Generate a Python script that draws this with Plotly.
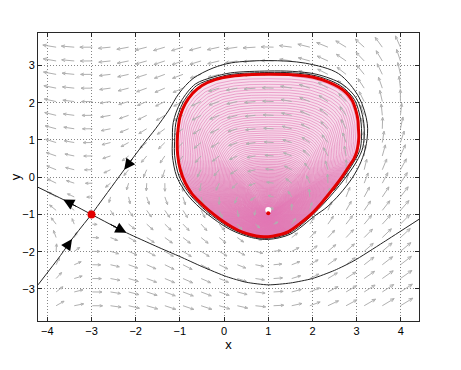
import math
import numpy as np
import plotly.graph_objects as go

# ---------------- data ----------------
SADDLE_X, SADDLE_Y = [-3.0], [-1.0]
FOCUS_X, FOCUS_Y = [1.0], [-0.97]
START_X, START_Y = [1.0], [-0.88]

# red limit cycle (counter-clockwise, closed)
CYCLE_X = [1.0, 0.55, 0.17, -0.2, -0.5, -0.72, -0.88, -0.99, -1.04, -1.06, -1.05, -0.99, -0.88, -0.73,
           -0.55, -0.36, -0.1, 0.17, 0.4, 0.63, 0.82, 1.0, 1.2, 1.46, 1.72, 1.99, 2.22, 2.44, 2.64,
           2.82, 2.94, 3.01, 3.05, 3.04, 3.03, 2.98, 2.9, 2.76, 2.59, 2.35, 2.06, 1.8, 1.54, 1.0]
CYCLE_Y = [2.76, 2.75, 2.71, 2.62, 2.46, 2.24, 1.97, 1.65, 1.3, 0.95, 0.6, 0.2, -0.15, -0.44,
           -0.67, -0.88, -1.12, -1.33, -1.47, -1.55, -1.59, -1.6, -1.56, -1.46, -1.24, -0.97, -0.67,
           -0.35, -0.04, 0.28, 0.5, 0.72, 1.08, 1.3, 1.53, 1.8, 2.06, 2.27, 2.42, 2.56, 2.67, 2.72,
           2.75, 2.76]

# stable manifold of the saddle: lower branch
STABLE_LOW_X = [-4.21, -3.7, -3.44, -3.0]
STABLE_LOW_Y = [-2.89, -2.1, -1.66, -1.0]

# stable manifold: upper branch, winding onto the cycle
STABLE_UP_X = [-3.0, -2.26, -1.85, -1.55, -1.25, -1.02, -0.7, -0.25, 0.17, 1.0, 1.84, 2.59, 3.05, 3.24,
               3.22, 3.1, 2.9, 2.62, 2.33,
               2.05, 1.5, 1.0, 0.62, 0.13, -0.42, -0.81, -1.07, -1.17, -1.17, -1.15, -0.98, -0.65, -0.24,
               0.15, 1.0, 1.55, 2.1, 2.67, 3.0, 3.15, 3.17, 3.12, 2.92, 2.5,
               2.02, 1.48, 1.0, 0.62, 0.15, -0.39, -0.77, -1.02, -1.12, -1.12, -1.09, -0.93, -0.62, -0.22,
               0.16, 1.0, 1.55, 2.08, 2.63, 2.95, 3.09, 3.11, 3.07, 2.87, 2.48]
STABLE_UP_Y = [-1.0, 0.2, 0.85, 1.3, 1.8, 2.25, 2.65, 2.93, 3.07, 3.13, 3.06, 2.78, 2.15, 1.44,
               0.9, 0.42, -0.02, -0.45, -0.8,
               -1.04, -1.53, -1.67, -1.62, -1.4, -0.95, -0.5, 0.01, 0.58, 0.95, 1.47, 2.02, 2.5, 2.69,
               2.8, 2.85, 2.84, 2.76, 2.5, 2.1, 1.55, 1.08, 0.72, 0.27, -0.38,
               -0.99, -1.5, -1.64, -1.59, -1.37, -0.92, -0.47, 0.03, 0.59, 0.95, 1.46, 2.0, 2.46, 2.65,
               2.76, 2.81, 2.8, 2.72, 2.46, 2.08, 1.54, 1.08, 0.72, 0.28, -0.36]

# unstable manifold branches
UNSTABLE_LEFT_X = [-3.0, -3.64, -4.21]
UNSTABLE_LEFT_Y = [-1.0, -0.6, -0.27]
UNSTABLE_RIGHT_X = [-3.0, -2.21, -1.9, -1.45, -1.0, -0.5, 0.06, 0.5, 1.0, 1.5, 2.0, 2.5, 2.93, 3.6, 4.41]
UNSTABLE_RIGHT_Y = [-1.0, -1.49, -1.66, -1.9, -2.13, -2.4, -2.67, -2.82, -2.89, -2.84, -2.72, -2.5,
                    -2.25, -1.75, -1.13]

# quiver grid
QX = [-3.8, -3.39, -2.98, -2.57, -2.16, -1.75, -1.34, -0.93, -0.52, -0.11, 0.3, 0.71, 1.12, 1.53,
      1.94, 2.35, 2.76, 3.17, 3.58, 3.99]
QY = [-3.45, -3.08, -2.72, -2.35, -1.99, -1.62, -1.26, -0.89, -0.53, -0.16, 0.2, 0.57, 0.93, 1.3,
      1.66, 2.03, 2.39, 2.76, 3.12, 3.49]

X_TICKS = [-4, -3, -2, -1, 0, 1, 2, 3, 4]
Y_TICKS = [-3, -2, -1, 0, 1, 2, 3]

# vector field of the system (Lienard form)
F_PARAMS = dict(a=-0.0475, b=0.1975, c=0.64, d=0.716)
G_PARAMS = dict(k=0.33, e=0.03)


def field(x, y):
    h = F_PARAMS["a"] + F_PARAMS["b"] * math.tanh(F_PARAMS["c"] * (x - F_PARAMS["d"]))
    u = -(y + 1.0) + (x + 3.0) * (x - 1.0) * h
    v = G_PARAMS["k"] * (x + 3.0) * (x - 1.0) / (1.0 + G_PARAMS["e"] * (x + 1.0) ** 2)
    return u, v


# ---------------- layout geometry ----------------
# (the page body adds an 8 px offset on the left and top)
W, H = 453, 362
ML, MR, MT, MB = 30, 42, 25, 49
XR = [-4.21, 4.41]
YR = [-3.86, 3.87]
PXU = (W - ML - MR) / (XR[1] - XR[0])
PYU = (H - MT - MB) / (YR[1] - YR[0])

fig = go.Figure()


def clip_below(xs, ys, yc):
    ox, oy = [], []
    pts = list(zip(xs, ys))
    for (x1, y1), (x2, y2) in zip(pts[:-1], pts[1:]):
        in1, in2 = y1 <= yc, y2 <= yc
        if in1:
            ox.append(x1)
            oy.append(y1)
        if in1 != in2:
            t = (yc - y1) / (y2 - y1)
            ox.append(x1 + t * (x2 - x1))
            oy.append(yc)
    if ox:
        ox.append(ox[0])
        oy.append(oy[0])
    return ox, oy


# ---------------- pink spiral (inside the cycle) ----------------
fig.add_trace(go.Scatter(x=CYCLE_X, y=CYCLE_Y, mode="lines", fill="toself",
                         fillcolor="rgb(247,222,236)", line=dict(width=0, shape="spline"),
                         hoverinfo="skip"))
for yc in np.linspace(-1.35, 0.45, 11):
    bx, by = clip_below(CYCLE_X, CYCLE_Y, yc)
    fig.add_trace(go.Scatter(x=bx, y=by, mode="lines", fill="toself",
                             fillcolor="rgba(214,108,168,0.085)", line=dict(width=0),
                             hoverinfo="skip"))

px_c = np.array(CYCLE_X[:-1])
py_c = np.array(CYCLE_Y[:-1])
n = len(px_c)
NL = 110
sx, sy = [], []
for k in range(NL):
    for i in range(n):
        t = (k * n + i) / (NL * n)
        s = 0.004 + 0.985 * t ** 2.3
        sx.append(FOCUS_X[0] + s * (px_c[i] - FOCUS_X[0]))
        sy.append(FOCUS_Y[0] + s * (py_c[i] - FOCUS_Y[0]))
fig.add_trace(go.Scatter(x=sx, y=sy, mode="lines",
                         line=dict(color="rgb(226,118,180)", width=0.6),
                         hoverinfo="skip"))

# ---------------- quiver ----------------
qx, qy = [], []
for x0 in QX:
    for y0 in QY:
        u, v = field(x0, y0)
        m = math.hypot(u, v)
        du, dv = u * PXU, v * PYU
        nn = math.hypot(du, dv)
        if nn == 0:
            continue
        L = min(15.0, 13.0 * (m / 5.0) ** 0.35)
        ex, ey = du / nn * L, dv / nn * L
        hl = max(3.0, 0.3 * L)
        ang = math.atan2(ey, ex)
        hx, hy = x0 + ex / PXU, y0 + ey / PYU
        qx += [x0, hx, None]
        qy += [y0, hy, None]
        for sg in (1, -1):
            a2 = ang + math.pi + sg * 0.4
            bx_ = ex + hl * math.cos(a2)
            by_ = ey + hl * math.sin(a2)
            qx += [hx, x0 + bx_ / PXU, None]
            qy += [hy, y0 + by_ / PYU, None]
fig.add_trace(go.Scatter(x=qx, y=qy, mode="lines",
                         line=dict(color="rgb(176,176,176)", width=1), hoverinfo="skip"))

# ---------------- separatrices ----------------
blk = dict(color="rgb(35,35,35)", width=1)
for X, Y in [(STABLE_LOW_X, STABLE_LOW_Y), (UNSTABLE_LEFT_X, UNSTABLE_LEFT_Y),
             (UNSTABLE_RIGHT_X, UNSTABLE_RIGHT_Y)]:
    fig.add_trace(go.Scatter(x=X, y=Y, mode="lines", line=dict(**blk, shape="spline", smoothing=0.6),
                             hoverinfo="skip"))
fig.add_trace(go.Scatter(x=STABLE_UP_X, y=STABLE_UP_Y, mode="lines",
                         line=dict(**blk, shape="spline", smoothing=0.9), hoverinfo="skip"))

# ---------------- limit cycle ----------------
fig.add_trace(go.Scatter(x=CYCLE_X, y=CYCLE_Y, mode="lines",
                         line=dict(color="rgb(226,0,0)", width=3, shape="spline", smoothing=0.8),
                         hoverinfo="skip"))

# ---------------- equilibria ----------------
fig.add_trace(go.Scatter(x=SADDLE_X, y=SADDLE_Y, mode="markers",
                         marker=dict(color="rgb(226,0,0)", size=8), hoverinfo="skip"))
fig.add_trace(go.Scatter(x=START_X, y=START_Y, mode="markers",
                         marker=dict(color="white", size=6), hoverinfo="skip"))
fig.add_trace(go.Scatter(x=FOCUS_X, y=FOCUS_Y, mode="markers",
                         marker=dict(color="rgb(226,0,0)", size=4), hoverinfo="skip"))

# ---------------- arrowheads on separatrices ----------------
def head(X, Y, ih, it):
    hx, hy = X[ih], Y[ih]
    tx = hx + 0.5 * (X[it] - hx)
    ty = hy + 0.5 * (Y[it] - hy)
    fig.add_annotation(x=hx, y=hy, ax=tx, ay=ty, xref="x", yref="y", axref="x", ayref="y",
                       text="", showarrow=True, arrowhead=2, arrowsize=2.2, arrowwidth=1,
                       arrowcolor="black", standoff=0, startstandoff=0)

head(UNSTABLE_LEFT_X, UNSTABLE_LEFT_Y, 1, 0)
head(UNSTABLE_RIGHT_X, UNSTABLE_RIGHT_Y, 1, 0)
head(STABLE_LOW_X, STABLE_LOW_Y, 2, 1)
head(STABLE_UP_X, STABLE_UP_Y, 1, 2)

axis_common = dict(ticks="inside", ticklen=4, tickwidth=1, tickcolor="rgb(40,40,40)",
                   mirror="allticks", showline=True, linecolor="rgb(40,40,40)", linewidth=1,
                   showgrid=True, gridcolor="rgb(135,135,135)", griddash="1px,2px", gridwidth=1,
                   zeroline=False, automargin=False,
                   tickfont=dict(size=11, color="black", family="Liberation Sans"))

fig.update_layout(
    width=W, height=H, margin=dict(l=ML, r=MR, t=MT, b=MB),
    paper_bgcolor="white", plot_bgcolor="white", showlegend=False,
    font=dict(family="Liberation Sans", size=11, color="black"),
    xaxis=dict(range=XR, tickvals=X_TICKS, title=dict(text="x", standoff=2), **axis_common),
    yaxis=dict(range=YR, tickvals=Y_TICKS, title=dict(text="y", standoff=0), **axis_common),
)

fig.write_html("out.html")
